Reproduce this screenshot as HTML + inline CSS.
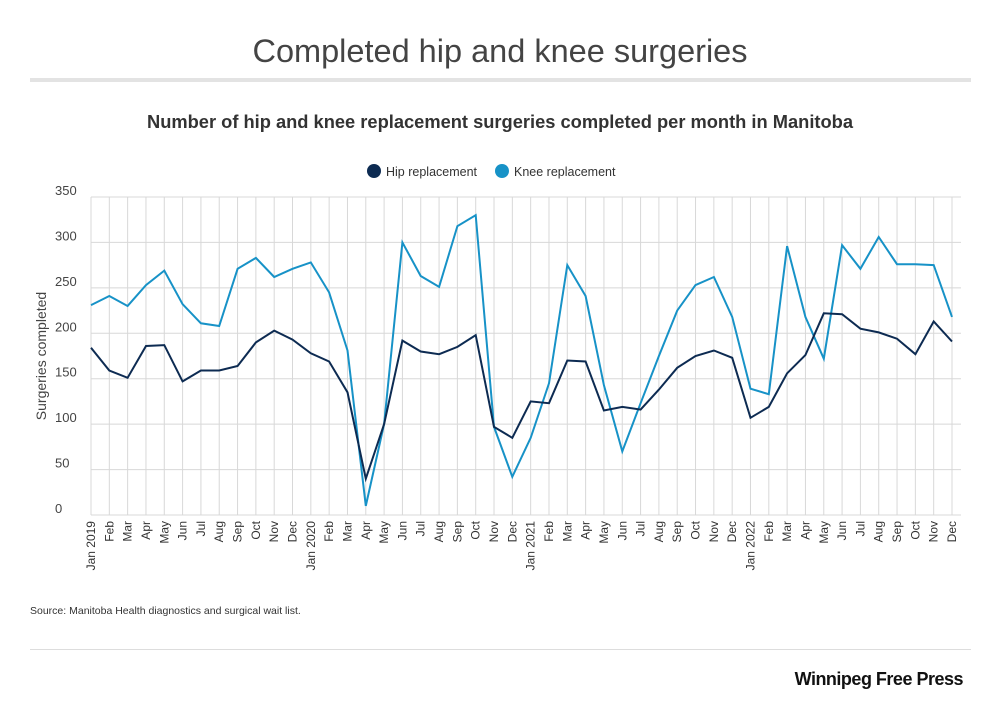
<!DOCTYPE html>
<html><head><meta charset="utf-8"><style>
body{margin:0;background:#fff;font-family:"Liberation Sans",sans-serif}
</style></head><body>
<svg width="1000" height="711" xmlns="http://www.w3.org/2000/svg" font-family="Liberation Sans, sans-serif">
<rect width="1000" height="711" fill="#fff"/>
<text x="500" y="62" text-anchor="middle" font-size="32.5" fill="#444">Completed hip and knee surgeries</text>
<rect x="30" y="78" width="941" height="4" fill="#e3e3e3"/>
<text x="500" y="128" text-anchor="middle" font-size="18.3" font-weight="bold" fill="#333">Number of hip and knee replacement surgeries completed per month in Manitoba</text>
<circle cx="374" cy="171" r="7" fill="#0d2b52"/>
<text x="386" y="176" font-size="12.5" fill="#333">Hip replacement</text>
<circle cx="502" cy="171" r="7" fill="#1792c7"/>
<text x="514" y="176" font-size="12.5" fill="#333">Knee replacement</text>
<g id="grid" stroke="#d8d8d8" stroke-width="1"></g>
<g id="yl" font-size="13" fill="#444"></g>
<text transform="translate(46,356) rotate(-90)" text-anchor="middle" font-size="14" fill="#444">Surgeries completed</text>
<g id="xl" font-size="12" fill="#333"></g>
<polyline id="knee" fill="none" stroke="#1792c7" stroke-width="2"/>
<polyline id="hip" fill="none" stroke="#0d2b52" stroke-width="2"/>
<text x="30" y="614" font-size="10.5" fill="#333">Source: Manitoba Health diagnostics and surgical wait list.</text>
<rect x="30" y="649" width="941" height="1" fill="#ddd"/>
<text x="963" y="685" text-anchor="end" font-size="18" font-weight="bold" fill="#111" letter-spacing="-0.5">Winnipeg Free Press</text>
</svg>
<script>
var ns="http://www.w3.org/2000/svg";
function el(t,a,p,txt){var e=document.createElementNS(ns,t);for(var k in a)e.setAttribute(k,a[k]);if(txt)e.textContent=txt;document.getElementById(p).appendChild(e);return e;}
var x0=91,dx=(952-91)/47,y0=515,ys=318/350;
function X(i){return x0+i*dx}function Y(v){return y0-v*ys}
for(var v=0;v<=350;v+=50){el("line",{x1:91,x2:961,y1:Y(v),y2:Y(v)},"grid");el("text",{x:55,y:Y(v)-2},"yl",String(v));}
var m=["Jan","Feb","Mar","Apr","May","Jun","Jul","Aug","Sep","Oct","Nov","Dec"];
for(var i=0;i<48;i++){el("line",{x1:X(i),x2:X(i),y1:197,y2:515},"grid");
var lab=(i%12==0)?"Jan "+(2019+i/12):m[i%12];
el("text",{transform:"translate("+(X(i)+4)+",521) rotate(-90)","text-anchor":"end"},"xl",lab);}
var knee=[231,241,230,253,269,232,211,208,271,283,262,271,278,245,181,10,100,300,263,251,318,330,97,42,85,145,275,241,143,70,123,175,225,253,262,218,139,133,296,218,172,297,271,306,276,276,275,218];
var hip=[184,159,151,186,187,147,159,159,164,190,203,193,178,169,135,40,100,192,180,177,185,198,97,85,125,123,170,169,115,119,116,138,162,175,181,173,107,119,156,176,222,221,205,201,194,177,213,191];
function pts(a){return a.map(function(v,i){return X(i).toFixed(1)+","+Y(v).toFixed(1)}).join(" ")}
document.getElementById("knee").setAttribute("points",pts(knee));
document.getElementById("hip").setAttribute("points",pts(hip));
</script>
</body></html>
